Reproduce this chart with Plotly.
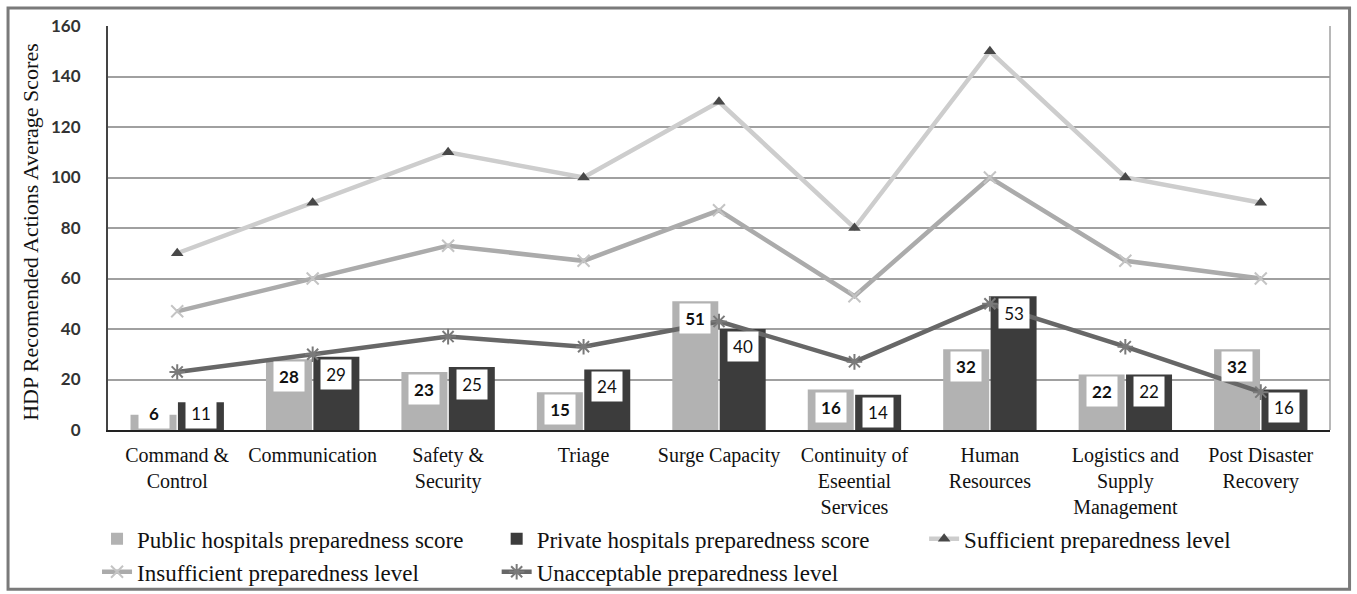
import plotly.graph_objects as go

categories = ["Command &<br>Control", "Communication", "Safety &<br>Security", "Triage",
              "Surge Capacity", "Continuity of<br>Eseential<br>Services", "Human<br>Resources",
              "Logistics and<br>Supply<br>Management", "Post Disaster<br>Recovery"]
public_scores = [6, 28, 23, 15, 51, 16, 32, 22, 32]
private_scores = [11, 29, 25, 24, 40, 14, 53, 22, 16]
sufficient = [70, 90, 110, 100, 130, 80, 150, 100, 90]
insufficient = [47, 60, 73, 67, 87, 53, 100, 67, 60]
unacceptable = [23, 30, 37, 33, 43, 27, 50, 33, 15]
y_ticks = [0, 20, 40, 60, 80, 100, 120, 140, 160]

SERIF = "Liberation Serif"
SANS = "Lato"

fig = go.Figure()
fig.add_trace(go.Bar(x=categories, y=public_scores, name="Public hospitals preparedness score",
                     marker=dict(color="#b2b2b2", line=dict(width=0)), legend="legend"))
fig.add_trace(go.Bar(x=categories, y=private_scores, name="Private hospitals preparedness score",
                     marker=dict(color="#3c3c3c", line=dict(width=0)), legend="legend2"))
fig.add_trace(go.Scatter(x=categories, y=sufficient, name="Sufficient preparedness level",
                         mode="lines+markers", line=dict(color="#cdcdcd", width=4.5),
                         marker=dict(symbol="triangle-up", size=11, color="#484848"),
                         legend="legend3"))
fig.add_trace(go.Scatter(x=categories, y=insufficient, name="Insufficient preparedness level",
                         mode="lines+markers", line=dict(color="#ababab", width=4.5),
                         marker=dict(symbol="x-thin-open", size=12, color="#c4c4c4",
                                     line=dict(width=2, color="#c4c4c4")),
                         legend="legend"))
fig.add_trace(go.Scatter(x=categories, y=unacceptable, name="Unacceptable preparedness level",
                         mode="lines+markers", line=dict(color="#676767", width=4.5),
                         marker=dict(symbol="asterisk-open", size=13, color="#7a7a7a",
                                     line=dict(width=2, color="#7a7a7a")),
                         legend="legend2"))

annotations = []
off = 0.175
for i, (pv, qv) in enumerate(zip(public_scores, private_scores)):
    for xv, v, bold in ((i - off, pv, True), (i + off, qv, False)):
        annotations.append(dict(
            x=xv, y=max(v, 13.5), xref="x", yref="y", yanchor="top", yshift=-2,
            text=f"<b>{v}</b>" if bold else str(v), showarrow=False,
            font=dict(family=SANS, size=17, color="#111"),
            bgcolor="white", width=28, height=27, borderpad=1))

annotations.append(dict(
    text="HDP Recomended Actions Average Scores", xref="paper", yref="paper",
    x=-0.064, y=0.49, textangle=-90, showarrow=False, xanchor="center", yanchor="middle",
    font=dict(family=SERIF, size=22, color="#111")))

legend_common = dict(orientation="v", xref="container", yref="container",
                     xanchor="left", yanchor="top",
                     bgcolor="rgba(0,0,0,0)", font=dict(family=SERIF, size=23, color="#111"),
                     tracegroupgap=4, itemwidth=30)

fig.update_layout(
    width=1357, height=594,
    margin=dict(l=108, r=27, t=26, b=164, autoexpand=False),
    paper_bgcolor="white", plot_bgcolor="white",
    barmode="group", bargap=0.3, bargroupgap=0.03,
    showlegend=True,
    legend=dict(x=0.0715, y=0.129, **legend_common),
    legend2=dict(x=0.366, y=0.129, **legend_common),
    legend3=dict(x=0.681, y=0.129, **legend_common),
    xaxis=dict(type="category", showgrid=False, ticks="", showline=True, linecolor="#222",
               linewidth=2, ticklabelstandoff=6, automargin=False,
               tickfont=dict(family=SERIF, size=20, color="#111")),
    yaxis=dict(range=[0, 160], tickvals=y_ticks, showgrid=True, gridcolor="#a0a0a0",
               gridwidth=1.5, showline=True, linecolor="#444", linewidth=2, mirror=False,
               zeroline=False, ticks="", ticklabelstandoff=22, automargin=False,
               tickfont=dict(family=SANS, size=17, color="#333", weight="bold")),
    annotations=annotations,
    shapes=[
        dict(type="rect", xref="paper", yref="paper", x0=-0.0818, x1=1.016, y0=-0.394, y1=1.0446,
             line=dict(color="#7a7a7a", width=3), layer="below"),
        dict(type="line", xref="paper", yref="paper", x0=1.0, x1=1.0, y0=0, y1=1,
             line=dict(color="#a0a0a0", width=1.5)),
    ],
)

fig.write_html("out.html")
